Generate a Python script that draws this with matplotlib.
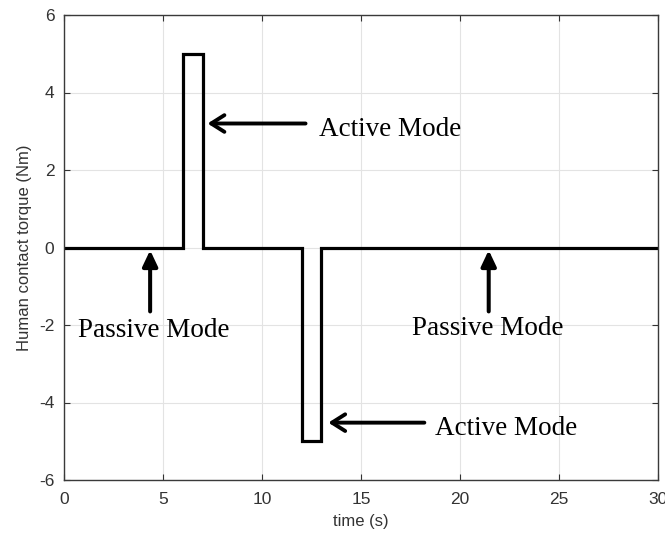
import matplotlib
matplotlib.use('Agg')
import matplotlib.pyplot as plt

plt.rcParams['axes.unicode_minus'] = False

# torque profile: passive (0) with two active pulses
time_s = [0, 6, 6, 7, 7, 12, 12, 13, 13, 30]
torque_nm = [0, 0, 5, 5, 0, 0, -5, -5, 0, 0]

x_ticks = [0, 5, 10, 15, 20, 25, 30]
y_ticks = [-6, -4, -2, 0, 2, 4, 6]

# (label, arrow head, arrow tail, text anchor)
active_notes = [
    ('Active Mode', (7.25, 3.2), (12.2, 3.2), (12.9, 3.05)),
    ('Active Mode', (13.35, -4.52), (18.2, -4.52), (18.75, -4.66)),
]
passive_notes = [
    ('Passive Mode', (4.35, -0.07), (4.35, -1.65), (4.55, -2.15)),
    ('Passive Mode', (21.45, -0.07), (21.45, -1.65), (21.4, -2.08)),
]

grey = '#333333'
fig = plt.figure(figsize=(6.65, 5.38), dpi=100)
ax = fig.add_axes([64 / 665, 1 - 480 / 538, 594 / 665, 465 / 538])

ax.plot(time_s, torque_nm, color='black', lw=2.3, solid_joinstyle='miter')

ax.set_xlim(0, 30)
ax.set_ylim(-6, 6)
ax.set_xticks(x_ticks)
ax.set_yticks(y_ticks)
ax.grid(True, color='#e3e3e3', lw=0.8)
ax.set_axisbelow(True)
ax.tick_params(direction='in', top=True, right=True, length=4,
               color=grey, labelcolor=grey, labelsize=12.5)
ax.tick_params(axis='x', pad=9)
ax.tick_params(axis='y', pad=7)
for lbl in ax.get_xticklabels() + ax.get_yticklabels():
    lbl.set_fontfamily('Liberation Sans')
for sp in ax.spines.values():
    sp.set_color('#3a3a3a')
    sp.set_linewidth(1.0)

ax.set_xlabel('time (s)', fontsize=12, color=grey, family='Liberation Sans',
              labelpad=5)
ax.set_ylabel('Human contact torque (Nm)', fontsize=12, color=grey,
              family='Liberation Sans', labelpad=5)

# open heads for active mode, filled heads for passive mode
open_arrow = dict(arrowstyle='->,head_length=0.95,head_width=0.6',
                  color='black', lw=2.8, shrinkA=0, shrinkB=0)
solid_arrow = dict(arrowstyle='-|>,head_length=0.95,head_width=0.45',
                   color='black', lw=2.9, shrinkA=0, shrinkB=0)
for text, head, tail, pos in active_notes:
    ax.annotate('', xy=head, xytext=tail, arrowprops=open_arrow)
    ax.text(pos[0], pos[1], text, family='Liberation Serif', fontsize=19.5,
            ha='left', va='center', color='black')
for text, head, tail, pos in passive_notes:
    ax.annotate('', xy=head, xytext=tail, arrowprops=solid_arrow)
    ax.text(pos[0], pos[1], text, family='Liberation Serif', fontsize=19.5,
            ha='center', va='center', color='black')

fig.savefig('out.png', dpi=100)
